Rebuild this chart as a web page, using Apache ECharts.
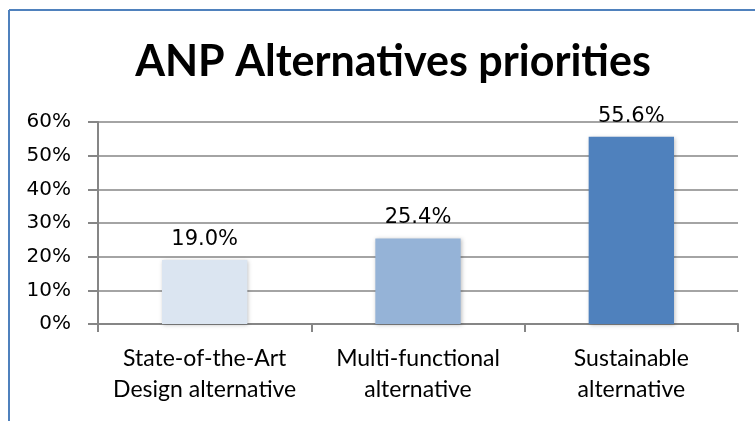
<!DOCTYPE html>
<html>
<head>
<meta charset="utf-8">
<script src="https://cdn.jsdelivr.net/npm/echarts@6/dist/echarts.min.js"></script>
<style>
	html, body { margin: 0; padding: 0; background: #fff; }
	#chart { width: 755px; height: 421px; }
</style>
</head>
<body>
<div id="chart"></div>
<script>
var categories = ['State-of-the-Art\nDesign alternative', 'Multi-functional\nalternative', 'Sustainable\nalternative'];
var values = [19.0, 25.4, 55.6];
var barColors = ['#dbe5f1', '#95b3d7', '#4f81bd'];

var chart = echarts.init(document.getElementById('chart'));

var option = {
	animation: false,
	title: {
		text: 'ANP Alternatives priorities',
		left: 388,
		top: 36,
		textAlign: 'center',
		textStyle: {
			fontFamily: 'Lato',
			fontWeight: 'bold',
			fontSize: 43,
			color: '#000'
		}
	},
	graphic: [
		// chart frame (left and top edges visible)
		{ type: 'line', shape: { x1: 9, y1: 10, x2: 9, y2: 421 }, style: { stroke: '#4f81bd', lineWidth: 2 } },
		{ type: 'line', shape: { x1: 9, y1: 10, x2: 755, y2: 10 }, style: { stroke: '#4f81bd', lineWidth: 2 } }
	],
	grid: {
		left: 98,
		right: 17,
		top: 122,
		bottom: 97
	},
	xAxis: {
		type: 'category',
		data: categories,
		axisLine: { lineStyle: { color: '#868686', width: 2 } },
		axisTick: { show: true, length: 8, lineStyle: { color: '#868686', width: 2 } },
		axisLabel: {
			interval: 0,
			hideOverlap: false,
			margin: 19,
			fontFamily: 'Lato',
			fontSize: 23,
			lineHeight: 31,
			color: '#000'
		}
	},
	yAxis: {
		type: 'value',
		min: 0,
		max: 60,
		interval: 10,
		axisLine: { show: true, lineStyle: { color: '#868686', width: 2 } },
		axisTick: { show: true, length: 10, lineStyle: { color: '#868686', width: 2 } },
		splitLine: { lineStyle: { color: '#868686', width: 1.5 } },
		axisLabel: {
			margin: 27,
			formatter: '{value}%',
			fontFamily: 'DejaVu Sans',
			fontSize: 20,
			color: '#000'
		}
	},
	series: [{
		type: 'bar',
		barWidth: '40%',
		data: values.map(function(v, i) {
			return { value: v, itemStyle: { color: barColors[i] } };
		}),
		itemStyle: {
			shadowColor: 'rgba(0,0,0,0.25)',
			shadowBlur: 4,
			shadowOffsetX: 1,
			shadowOffsetY: 1
		},
		label: {
			show: true,
			position: 'top',
			distance: 10,
			formatter: function(p) { return p.value.toFixed(1) + '%'; },
			fontFamily: 'DejaVu Sans',
			fontSize: 21,
			color: '#000'
		}
	}]
};

chart.setOption(option);
</script>
</body>
</html>
